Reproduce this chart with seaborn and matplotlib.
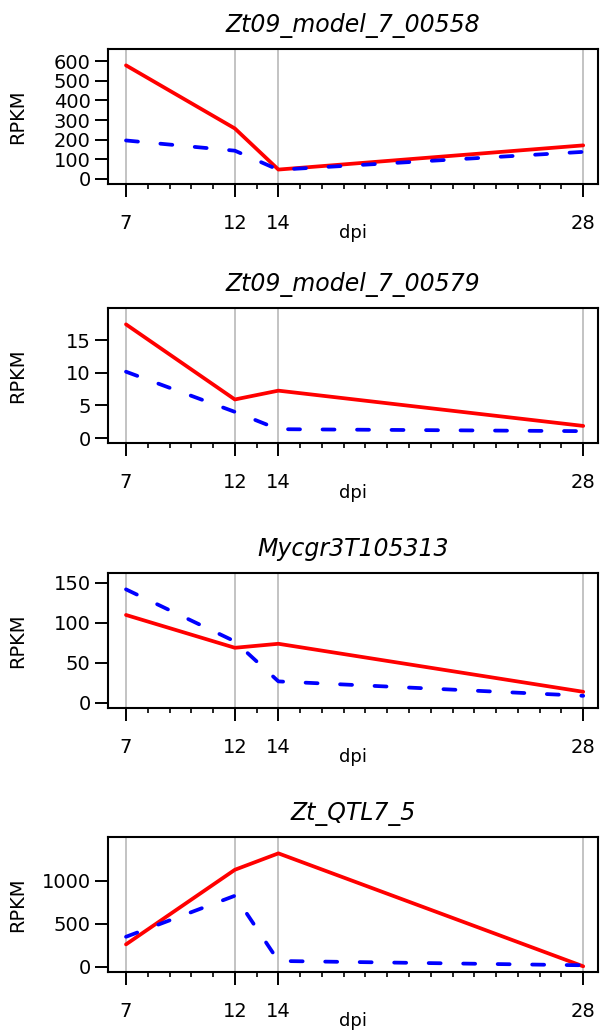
import numpy as np
import pandas as pd
import matplotlib
matplotlib.use("Agg")
import matplotlib.pyplot as plt
import seaborn as sns
from matplotlib.ticker import FixedLocator

sns.set_style("white")
plt.rcParams['font.family'] = ['DejaVu Sans']
plt.rcParams['text.color'] = 'black'
plt.rcParams['axes.labelcolor'] = 'black'
plt.rcParams['xtick.color'] = 'black'
plt.rcParams['ytick.color'] = 'black'

# data
dpi_days = [7, 12, 14, 28]
genes = ["Zt09_model_7_00558", "Zt09_model_7_00579", "Mycgr3T105313", "Zt_QTL7_5"]

red_00558 = [578, 257, 48, 171]
blue_00558 = [196, 144, 47, 138]
red_00579 = [17.4, 5.9, 7.25, 1.85]
blue_00579 = [10.15, 4.0, 1.35, 1.05]
red_105313 = [110, 69, 74, 14]
blue_105313 = [142, 77, 27, 9]
red_qtl = [262, 1126, 1316, 8]
blue_qtl = [350, 825, 70, 20]

red_series = [red_00558, red_00579, red_105313, red_qtl]
blue_series = [blue_00558, blue_00579, blue_105313, blue_qtl]

yticks = [[0, 100, 200, 300, 400, 500, 600],
          [0, 5, 10, 15],
          [0, 50, 100, 150],
          [0, 500, 1000]]

fig = plt.figure(figsize=(6.01, 10.32), dpi=100)

H = 1032.0
W = 601.0
box_tops = [49, 308, 573, 837]
box_h = 135

for i, gene in enumerate(genes):
    top = box_tops[i]
    ax = fig.add_axes([108 / W, 1 - (top + box_h) / H, 490 / W, box_h / H])

    df = pd.DataFrame({
        'dpi': dpi_days * 2,
        'RPKM': red_series[i] + blue_series[i],
        'series': ['red'] * 4 + ['blue'] * 4,
    })

    # grey guides at sampled time points
    for d in dpi_days:
        ax.axvline(d, color='#BEBEBE', lw=1.3, zorder=0)

    sns.lineplot(data=df, x='dpi', y='RPKM', hue='series', style='series',
                 hue_order=['red', 'blue'], style_order=['red', 'blue'],
                 palette={'red': '#FF0000', 'blue': '#0000FF'},
                 dashes={'red': '', 'blue': (3.2, 6.0)},
                 linewidth=2.7, legend=False, ax=ax,
                 dash_capstyle='round', solid_capstyle='round')

    ymax = 1.1 * max(max(red_series[i]), max(blue_series[i]))
    pad = 0.04 * ymax
    ax.set_ylim(-pad, ymax + pad)
    ax.set_xlim(6.173, 28.68)

    ax.xaxis.set_major_locator(FixedLocator(dpi_days))
    ax.xaxis.set_minor_locator(FixedLocator([d for d in range(7, 29) if d not in dpi_days]))
    ax.set_yticks(yticks[i])

    ax.tick_params(axis='x', which='major', direction='out', length=9.5, width=1.4,
                   pad=12, labelsize=14, bottom=True)
    ax.tick_params(axis='x', which='minor', direction='out', length=3.5, width=1.2, bottom=True)
    ax.tick_params(axis='y', which='major', direction='out', length=9.5, width=1.4,
                   pad=3, labelsize=14, left=True)

    for s in ax.spines.values():
        s.set_visible(True)
        s.set_color('black')
        s.set_linewidth(1.5)
    ax.grid(False)

    ax.set_title(gene, fontsize=17, style='italic', pad=12, color='black')
    ax.set_xlabel('dpi', fontsize=13)
    ax.set_ylabel('RPKM', fontsize=14)
    ax.xaxis.set_label_coords(0.5, -0.30)
    ax.yaxis.set_label_coords(-0.165, 0.5)

fig.savefig('out.png', dpi=100, facecolor='white')
